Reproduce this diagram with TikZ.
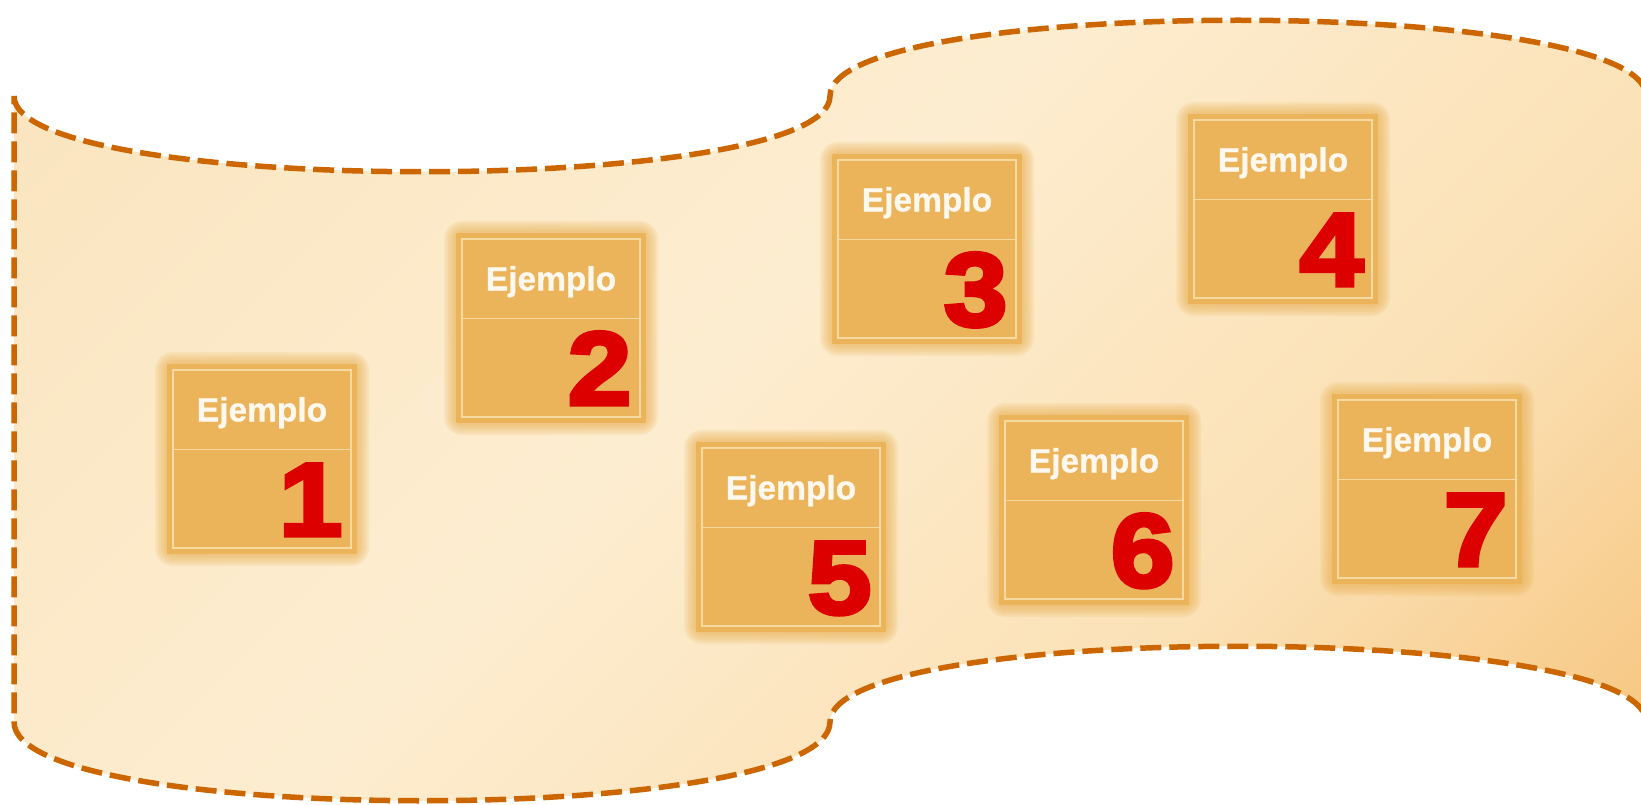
\documentclass[tikz,border=0pt]{standalone}
\usepackage{fontspec}
\setmainfont{Liberation Sans}
\newfontfamily\ejbold{Liberation Sans Bold}[FakeBold=1]
\newfontfamily\ejheavy{Liberation Sans Bold}[FakeBold=4, FakeStretch=1.1]
\usetikzlibrary{calc}
\definecolor{edge}{HTML}{CC6600}
\definecolor{bgA}{HTML}{FAE4BE}
\definecolor{bgB}{HTML}{FDEDD0}
\definecolor{bgD}{HTML}{FBE0B4}
\definecolor{bgC}{HTML}{F6C47C}
\definecolor{cardfill}{HTML}{EBB45A}
\definecolor{cardline}{HTML}{F6DAA2}
\definecolor{glow}{HTML}{EAB154}
\definecolor{numred}{HTML}{DD0000}
\definecolor{hdrtext}{HTML}{FFF8EE}
\pgfdeclarehorizontalshading{banner}{100bp}{color(0bp)=(bgA); color(15bp)=(bgA); color(45bp)=(bgB); color(68bp)=(bgD); color(85bp)=(bgC); color(100bp)=(bgC)}
\newcommand\ejcard[4]{%
  \foreach \g in {18,16,...,6} {\fill[glow, opacity=0.14, rounded corners=\g pt] ({#2-89-\g},{#3-89-\g}) rectangle ({#2+89+\g},{#3+89+\g});}
  \fill[cardfill] ({#2-95},{#3-95}) rectangle ({#2+95},{#3+95});
  \node[card] (#1) at (#2,#3) {};
  \draw[cardline, line width=1.3pt] ($(#1.north west)+(0,80)$) -- ($(#1.north east)+(0,80)$);
  \node[hdr] (#1-h) at ($(#1.north)+(0,52)$) {Ejemplo};
  \node[num] (#1-n) at ($(#1.south east)+(-9,-13)$) {#4};
}
\begin{document}
\begin{tikzpicture}[x=1pt,y=-1pt,
  card/.style={minimum width=178pt, minimum height=178pt, inner sep=0pt, fill=cardfill, draw=cardline, line width=1.3pt},
  hdr/.style={anchor=base, text=hdrtext, font=\ejbold\fontsize{33.5}{36}\selectfont, inner sep=0pt},
  num/.style={anchor=base east, text=numred, font=\ejheavy\fontsize{104}{110}\selectfont, inner sep=0pt},
  border/.style={draw=edge, line width=5.5pt, dash pattern=on 21pt off 8pt, line join=round},
]
\useasboundingbox (0,0) rectangle (1641,805);
\fill[white] (0,0) rectangle (1641,805);
\clip (0,0) rectangle (1641,805);
\def\bannerpath{(14,96) .. controls (14,197) and (830,197) .. (830,96) .. controls (830,-5) and (1646,-5) .. (1646,96) -- (1646,722) .. controls (1646,621) and (830,621) .. (830,722) .. controls (830,827) and (14,827) .. (14,722) -- cycle}
\begin{scope}
  \clip \bannerpath;
  \shade[shading=banner, shading angle=-45] (14,16) rectangle (1646,803);
\end{scope}
\draw[border] \bannerpath;
\ejcard{c1}{262}{459}{1}
\ejcard{c2}{551}{328}{2}
\ejcard{c3}{927}{249}{3}
\ejcard{c4}{1283}{209}{4}
\ejcard{c5}{791}{537}{5}
\ejcard{c6}{1094}{510}{6}
\ejcard{c7}{1427}{489}{7}
\end{tikzpicture}
\end{document}
